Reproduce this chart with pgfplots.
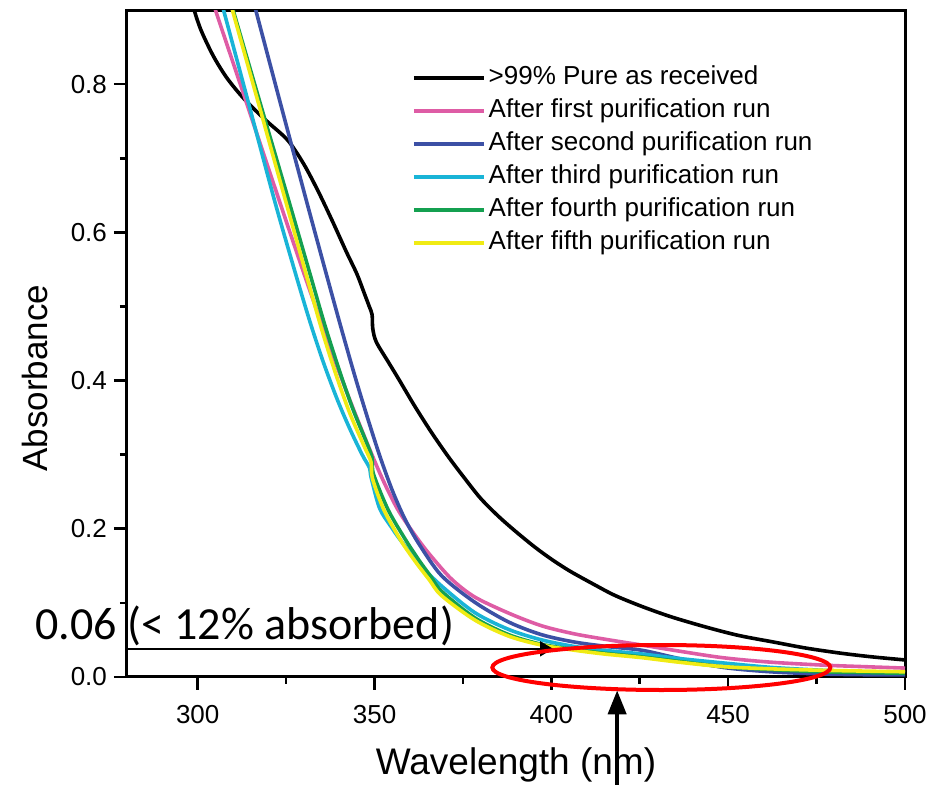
\documentclass[border=0pt]{standalone}
\usepackage{fontspec}
\setmainfont{Liberation Sans}
\newfontfamily\annfont{Carlito}
\usepackage{pgfplots}
\pgfplotsset{compat=1.18}
\usetikzlibrary{arrows.meta}
\definecolor{cpink}{RGB}{222,92,165}
\definecolor{cblue}{RGB}{60,80,165}
\definecolor{ccyan}{RGB}{25,180,215}
\definecolor{cgreen}{RGB}{20,160,80}
\definecolor{cyellow}{RGB}{240,235,20}

\begin{document}
\begin{tikzpicture}
\begin{axis}[
  at={(0pt,0pt)}, anchor=south west,
  scale only axis, width=389pt, height=333.5pt,
  xmin=280, xmax=500, ymin=0, ymax=0.9,
  axis line style={line width=1.5pt},
  xtick={300,350,400,450,500}, ytick={0,0.2,0.4,0.6,0.8},
  minor x tick num=1, minor y tick num=1,
  tick pos=left, tick align=outside,
  major tick length=6.5pt, minor tick length=3.5pt,
  every tick/.style={black, line width=1.3pt},
  y tick label style={/pgf/number format/.cd, fixed, fixed zerofill, precision=1},
  x tick label style={yshift=-4pt},
  /pgf/number format/assume math mode=true,
  tick label style={font=\fontsize{13}{15}\selectfont},
  xlabel={Wavelength (nm)}, ylabel={Absorbance},
  xlabel style={font=\fontsize{18.5}{22}\selectfont, at={(axis description cs:0.5,-0.132)}, anchor=center},
  ylabel style={font=\fontsize{17.5}{21}\selectfont, at={(axis description cs:-0.118,0.448)}, anchor=center},
  clip mode=individual,
  legend style={draw=none, fill=none, inner sep=0pt, at={(axis description cs:0.366,0.92)}, anchor=north west,
    font=\fontsize{13}{15}\selectfont, row sep=2.5pt,
    nodes={inner sep=1pt, text height=9.5pt, text depth=2.5pt},
    /tikz/every odd column/.append style={column sep=0.5pt}},
  legend cell align=left,
  legend image code/.code={\draw[#1] (0pt,0pt) -- (35pt,0pt);},
  every axis plot/.append style={line width=1.8pt, line join=round, smooth, tension=0.5},
]
\addplot[black] coordinates {
(297.5,0.930) (299.0,0.900) (301.0,0.872) (304.4,0.838) (308.0,0.810) (312.0,0.786)
(316.0,0.766) (320.0,0.748) (325.5,0.724) (330.0,0.692) (334.0,0.656) (338.0,0.616)
(342.0,0.574) (345.0,0.544) (347.0,0.519) (348.5,0.500) (349.3,0.489) (349.5,0.470)
(350.5,0.452) (353.9,0.425) (356.7,0.403) (361.3,0.366) (366.1,0.330) (370.9,0.297)
(375.5,0.268) (380.0,0.241) (385.0,0.217) (390.0,0.196) (395.4,0.175) (400.0,0.159)
(405.2,0.143) (412.0,0.125) (418.0,0.110) (425.7,0.095) (434.0,0.081) (444.0,0.067)
(453.0,0.056) (463.0,0.047) (472.0,0.039) (482.0,0.032) (491.0,0.027) (500.0,0.023)
};
\addlegendentry{>99\% Pure as received}
\addplot[cpink] coordinates {
(303.0,0.930) (305.0,0.900) (314.0,0.772) (322.9,0.645) (330.0,0.545) (337.0,0.450)
(342.5,0.380) (347.0,0.326) (351.5,0.275) (355.0,0.240) (357.6,0.218) (362.4,0.185)
(366.0,0.163) (371.8,0.132) (378.3,0.108) (388.0,0.086) (397.3,0.069) (406.7,0.058)
(416.4,0.050) (425.7,0.043) (436.0,0.035) (448.5,0.026) (462.0,0.020) (476.9,0.016)
(488.0,0.014) (500.0,0.012)
};
\addlegendentry{After first purification run}
\addplot[cblue] coordinates {
(314.7,0.930) (316.4,0.900) (323.5,0.772) (330.6,0.645) (336.0,0.550) (340.5,0.472)
(344.5,0.405) (348.0,0.350) (351.5,0.298) (355.0,0.252) (358.5,0.214) (362.5,0.180)
(368.9,0.137) (378.3,0.101) (388.0,0.074) (397.3,0.057) (406.7,0.047) (416.0,0.041)
(425.7,0.036) (436.0,0.025) (448.5,0.013) (462.0,0.007) (476.9,0.004) (490.0,0.003)
(500.0,0.003)
};
\addlegendentry{After second purification run}
\addplot[ccyan] coordinates {
(305.6,0.930) (307.3,0.900) (314.5,0.772) (321.6,0.645) (327.0,0.555) (331.5,0.483)
(335.5,0.425) (339.5,0.374) (343.0,0.335) (346.5,0.300) (348.6,0.282) (349.0,0.270)
(351.4,0.228) (354.5,0.204) (357.6,0.183) (363.2,0.150) (368.9,0.123) (378.3,0.087)
(388.0,0.064) (397.3,0.050) (406.7,0.041) (415.0,0.036) (425.7,0.031) (436.0,0.025)
(448.5,0.019) (462.0,0.013) (476.9,0.009) (488.0,0.007) (500.0,0.006)
};
\addlegendentry{After third purification run}
\addplot[cgreen] coordinates {
(308.2,0.930) (310.0,0.900) (317.8,0.772) (325.6,0.645) (331.5,0.548) (336.0,0.474)
(340.3,0.410) (344.0,0.360) (347.6,0.318) (349.3,0.296) (349.7,0.274) (353.8,0.226)
(358.4,0.188) (362.5,0.158) (366.0,0.135) (368.9,0.116) (378.3,0.080) (388.0,0.057)
(397.3,0.044) (406.7,0.037) (415.0,0.032) (425.7,0.027) (436.0,0.021) (448.5,0.014)
(462.0,0.010) (476.9,0.007) (488.0,0.006) (500.0,0.005)
};
\addlegendentry{After fourth purification run}
\addplot[cyellow] coordinates {
(308.0,0.930) (309.8,0.900) (317.3,0.772) (324.7,0.645) (330.5,0.546) (335.0,0.470)
(339.1,0.408) (343.0,0.356) (347.1,0.311) (349.0,0.290) (349.4,0.268) (352.7,0.225)
(357.6,0.183) (361.8,0.154) (365.5,0.131) (368.9,0.110) (378.3,0.077) (388.0,0.055)
(397.3,0.043) (406.7,0.036) (415.0,0.031) (425.7,0.026) (436.0,0.020) (448.5,0.014)
(462.0,0.011) (476.9,0.009) (488.0,0.008) (500.0,0.007)
};
\addlegendentry{After fifth purification run}
% annotations
\draw[line width=0.8pt, -{Triangle[length=6.5pt,width=7.5pt]}] (axis cs:280,0.038) -- (axis cs:400.5,0.038);
\node[anchor=base west, inner sep=0pt, font=\annfont\fontsize{23}{26}\selectfont]
  at ([shift={(-46pt,18.5pt)}]axis description cs:0,0) {0.06 (< 12\% absorbed)};
\draw[red, line width=2pt] (axis cs:431.1,0.0128) ellipse [x radius=84.5pt, y radius=11.25pt];
\draw[line width=2pt, -{Triangle[length=12pt,width=9pt]}] (axis cs:418.6,-0.147) -- (axis cs:418.6,-0.018);
\end{axis}
\pgfresetboundingbox
\path[use as bounding box] (-63.5pt,-54pt) rectangle (405.5pt,338.5pt);
\end{tikzpicture}
\end{document}
